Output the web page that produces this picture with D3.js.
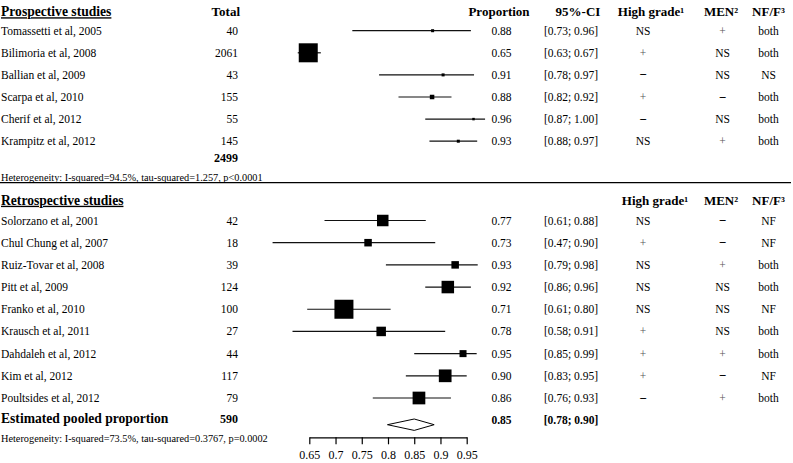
<!DOCTYPE html>
<html>
<head>
<meta charset="utf-8">
<script src="https://cdn.jsdelivr.net/npm/d3@7"></script>
<style>
  body { margin: 0; background: #fff; }
  svg { display: block; }
  text { font-family: "Liberation Serif", "Times New Roman", serif; fill: #000; }
</style>
</head>
<body>
<div id="chart"></div>
<script>
// prospective studies
const prospNames = ["Tomassetti et al, 2005", "Bilimoria et al, 2008", "Ballian et al, 2009",
    "Scarpa et al, 2010", "Cherif et al, 2012", "Krampitz et al, 2012"];
const prospTotal = [40, 2061, 43, 155, 55, 145];
const prospProp = [0.88, 0.65, 0.91, 0.88, 0.96, 0.93];
const prospLower = [0.73, 0.63, 0.78, 0.82, 0.87, 0.88];
const prospUpper = [0.96, 0.67, 0.97, 0.92, 1.00, 0.97];
// where the marks sit on the axis
const prospEst = [0.885, 0.648, 0.905, 0.884, 0.963, 0.934];
const prospLo = [0.732, 0.628, 0.783, 0.820, 0.871, 0.879];
const prospHi = [0.958, 0.672, 0.964, 0.921, 0.985, 0.970];
const prospWeight = [2.5, 100, 2.5, 5.6, 1.7, 2.5];
const prospHigh = ["NS", "+", "−", "+", "−", "NS"];
const prospMen = ["+", "NS", "NS", "−", "NS", "+"];
const prospNf = ["both", "both", "NS", "both", "both", "both"];
const prospSum = 2499;
const prospHet = "Heterogeneity: I-squared=94.5%, tau-squared=1.257, p<0.0001";

// retrospective studies
const retroNames = ["Solorzano et al, 2001", "Chul Chung et al, 2007", "Ruiz-Tovar et al, 2008",
    "Pitt et al, 2009", "Franko et al, 2010", "Krausch et al, 2011", "Dahdaleh et al, 2012",
    "Kim et al, 2012", "Poultsides et al, 2012"];
const retroTotal = [42, 18, 39, 124, 100, 27, 44, 117, 79];
const retroProp = [0.77, 0.73, 0.93, 0.92, 0.71, 0.78, 0.95, 0.90, 0.86];
const retroLower = [0.61, 0.47, 0.79, 0.86, 0.61, 0.58, 0.85, 0.83, 0.76];
const retroUpper = [0.88, 0.90, 0.98, 0.96, 0.80, 0.91, 0.99, 0.95, 0.93];
const retroEst = [0.790, 0.762, 0.928, 0.914, 0.716, 0.787, 0.943, 0.909, 0.859];
const retroLo = [0.679, 0.580, 0.796, 0.871, 0.646, 0.618, 0.850, 0.834, 0.771];
const retroHi = [0.872, 0.890, 0.971, 0.958, 0.805, 0.909, 0.969, 0.950, 0.920];
const retroWeight = [36.6, 15.6, 15.6, 43.3, 100, 25, 13.6, 44.7, 44.7];
const retroHigh = ["NS", "+", "NS", "NS", "NS", "+", "+", "+", "−"];
const retroMen = ["−", "−", "+", "NS", "NS", "NS", "+", "−", "+"];
const retroNf = ["NF", "NF", "both", "both", "NF", "both", "both", "NF", "both"];
const retroHet = "Heterogeneity: I-squared=73.5%, tau-squared=0.3767, p=0.0002";

// pooled estimate
const pooledTotal = 590;
const pooledProp = 0.85;
const pooledCI = [0.78, 0.90];
const pooledDrawn = [0.799, 0.850, 0.888];

const axisTicks = [0.65, 0.7, 0.75, 0.8, 0.85, 0.9, 0.95];

const width = 793, height = 463;
const svg = d3.select("#chart").append("svg")
    .attr("width", width)
    .attr("height", height);

const x = d3.scaleLinear().domain([0.65, 0.95]).range([309.3, 466.7]);
const size = d3.scaleSqrt().domain([0, 100]).range([0, 19]);
const f2 = d3.format(".2f");
const bodySize = "11.5px";

// column x positions
const col = { name: 1, total: 238, prop: 501.5, ci: 571, high: 643, men: 722.5, nf: 768.5 };

function headers(y, title, showTotal, highX) {
    svg.append("text")
        .attr("x", col.name).attr("y", y).attr("dy", "0.35em")
        .style("font-size", "13.6px").style("font-weight", "bold")
        .style("text-decoration", "underline")
        .text(title);
    if (showTotal) {
        svg.append("text").attr("x", 240).attr("y", y).attr("dy", "0.35em")
            .attr("text-anchor", "end")
            .style("font-size", "13px").style("font-weight", "bold").text("Total");
        svg.append("text").attr("x", 499).attr("y", y).attr("dy", "0.35em")
            .attr("text-anchor", "middle")
            .style("font-size", "13px").style("font-weight", "bold").text("Proportion");
        svg.append("text").attr("x", 578).attr("y", y).attr("dy", "0.35em")
            .attr("text-anchor", "middle")
            .style("font-size", "13px").style("font-weight", "bold").text("95%-CI");
    }
    svg.append("text").attr("x", highX).attr("y", y).attr("dy", "0.35em")
        .attr("text-anchor", "middle")
        .style("font-size", "13px").style("font-weight", "bold").text("High grade¹");
    svg.append("text").attr("x", 721).attr("y", y).attr("dy", "0.35em")
        .attr("text-anchor", "middle")
        .style("font-size", "13px").style("font-weight", "bold").text("MEN²");
    svg.append("text").attr("x", 768.5).attr("y", y).attr("dy", "0.35em")
        .attr("text-anchor", "middle")
        .style("font-size", "13px").style("font-weight", "bold").text("NF/F³");
}

function section(rows, y) {
    const g = svg.append("g");
    const row = g.selectAll(".row").data(rows).enter().append("g")
        .attr("class", "row")
        .attr("transform", (d, i) => `translate(0,${y(i)})`);

    const txt = (sel, xpos, anchor, fn) => sel.append("text")
        .attr("x", xpos).attr("dy", "0.35em")
        .attr("text-anchor", anchor)
        .style("font-size", bodySize)
        .text(fn);

    txt(row, col.name, "start", d => d.name);
    txt(row, col.total, "end", d => d.total);
    txt(row, col.prop, "middle", d => f2(d.prop));
    txt(row, col.ci, "middle", d => `[${f2(d.lower)}; ${f2(d.upper)}]`);
    row.each(function (d) {
        const r = d3.select(this);
        [[col.high, d.high], [col.men, d.men], [col.nf, d.nf]].forEach(([cx, v]) => {
            r.append("text").attr("x", cx).attr("dy", "0.35em")
                .attr("text-anchor", "middle")
                .style("font-size", v === "−" ? "13px" : bodySize)
                .style("font-weight", v === "−" ? "bold" : null)
                .style("fill", v === "+" ? "#555" : "#000")
                .text(v);
        });
    });

    // CI lines and weighted boxes
    row.append("line")
        .attr("x1", d => x(d.lo)).attr("x2", d => x(d.hi))
        .attr("stroke", "#111").attr("stroke-width", 1.2);
    row.append("rect")
        .attr("x", d => x(d.est) - size(d.w) / 2)
        .attr("y", d => -size(d.w) / 2)
        .attr("width", d => size(d.w))
        .attr("height", d => size(d.w))
        .attr("fill", "#000");
}

function build(names, total, prop, lower, upper, est, lo, hi, w, high, men, nf) {
    return names.map((n, i) => ({
        name: n, total: total[i], prop: prop[i], lower: lower[i], upper: upper[i],
        est: est[i], lo: lo[i], hi: hi[i], w: w[i], high: high[i], men: men[i], nf: nf[i]
    }));
}

// prospective block
headers(11.5, "Prospective studies", true, 651);
const yP = d3.scaleLinear().domain([0, 5]).range([30.7, 141.2]);
section(build(prospNames, prospTotal, prospProp, prospLower, prospUpper,
    prospEst, prospLo, prospHi, prospWeight, prospHigh, prospMen, prospNf), yP);

svg.append("text").attr("x", col.total).attr("y", 157.5).attr("dy", "0.35em")
    .attr("text-anchor", "end")
    .style("font-size", "12px").style("font-weight", "bold").text(prospSum);
svg.append("text").attr("x", 1).attr("y", 177).attr("dy", "0.35em")
    .style("font-size", "10.3px").text(prospHet);

svg.append("line").attr("x1", 0).attr("x2", 791).attr("y1", 182.7).attr("y2", 182.7)
    .attr("stroke", "#000").attr("stroke-width", 1.2);

// retrospective block
headers(200, "Retrospective studies", false, 655);
const yR = d3.scaleLinear().domain([0, 8]).range([220.5, 398]);
section(build(retroNames, retroTotal, retroProp, retroLower, retroUpper,
    retroEst, retroLo, retroHi, retroWeight, retroHigh, retroMen, retroNf), yR);

// pooled row
const pooledY = 418.5;
svg.append("text").attr("x", 1).attr("y", pooledY).attr("dy", "0.35em")
    .style("font-size", "13.6px").style("font-weight", "bold").text("Estimated pooled proportion");
svg.append("text").attr("x", col.total).attr("y", pooledY).attr("dy", "0.35em")
    .attr("text-anchor", "end")
    .style("font-size", "12px").style("font-weight", "bold").text(pooledTotal);
svg.append("text").attr("x", col.prop).attr("y", pooledY + 1).attr("dy", "0.35em")
    .attr("text-anchor", "middle")
    .style("font-size", bodySize).style("font-weight", "bold").text(f2(pooledProp));
svg.append("text").attr("x", col.ci).attr("y", pooledY + 1).attr("dy", "0.35em")
    .attr("text-anchor", "middle")
    .style("font-size", bodySize).style("font-weight", "bold")
    .text(`[${f2(pooledCI[0])}; ${f2(pooledCI[1])}]`);

const dy = 424.7, dh = 5.7;
svg.append("path")
    .attr("d", `M${x(pooledDrawn[0])},${dy} L${x(pooledDrawn[1])},${dy - dh} ` +
        `L${x(pooledDrawn[2])},${dy} L${x(pooledDrawn[1])},${dy + dh} Z`)
    .attr("fill", "#fff").attr("stroke", "#000").attr("stroke-width", 1);

svg.append("text").attr("x", 1).attr("y", 438.5).attr("dy", "0.35em")
    .style("font-size", "10.3px").text(retroHet);

// axis
const axis = svg.append("g")
    .attr("transform", "translate(0,437.3)")
    .call(d3.axisBottom(x).tickValues(axisTicks).tickSize(7).tickSizeOuter(0)
        .tickPadding(6).tickFormat(d3.format("~g")));
axis.selectAll("text")
    .style("font-family", "'Liberation Serif', serif")
    .style("font-size", "12px");
axis.selectAll("line, path").attr("stroke", "#000").attr("stroke-width", 1.2);
</script>
</body>
</html>
